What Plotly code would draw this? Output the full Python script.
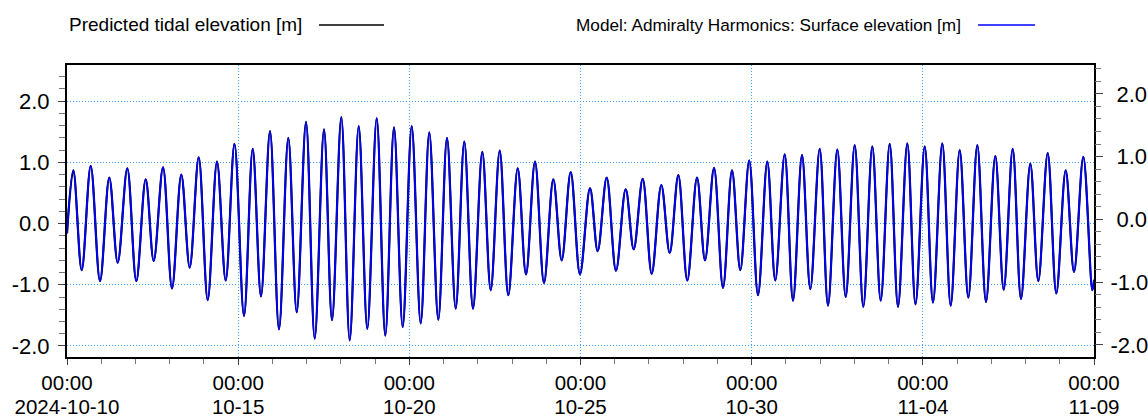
import pandas as pd
import plotly.graph_objects as go

# ---- data (high / low water times and heights) ----
start_time = "2024-10-10 00:00"
hours_from_start = [
    0, 4.42, 10.31, 16.62, 23.14, 29.66, 35.55, 42.28, 48.59, 55.18, 60.79,
    67.30, 73.61, 80.13, 86.02, 92.33, 98.64, 105.16, 111.26, 117.43, 124.09,
    130.19, 136.01, 142.32, 148.63, 155.15, 161.04, 167.56, 173.66, 180.18, 185.79,
    192.31, 198.20, 204.51, 210.54, 217.13, 223.15, 229.25, 235.35, 241.66, 247.97,
    254.00, 260.31, 266.41, 272.51, 278.54, 284.64, 291.16, 297.05, 303.36, 309.39,
    315.98, 321.80, 328.11, 334.42, 340.94, 346.82, 353.13, 359.65, 366.66, 372.06,
    378.37, 384.89, 391.69, 397.30, 403.61, 409.92, 416.65, 422.54, 428.57, 434.88,
    441.68, 447.29, 453.60, 459.91, 466.22, 472.04, 478.28, 484.45, 490.97, 496.57,
    503.16, 508.98, 515.29, 521.11, 527.70, 533.52, 540.04, 545.93, 552.24, 558.27,
    564.58, 570.47, 576.78, 582.60, 589.12, 594.87, 601.32, 607.13, 613.65, 619.54,
    625.85, 631.88, 638.19, 644.29, 650.81, 656.70, 663.01, 668.83, 675.35, 680.96,
    687.55, 693.58, 700.17, 705.99, 712.51, 718.82, 720,
]
predicted_elev = [
    -0.16, 0.87, -0.76, 0.94, -0.94, 0.75, -0.64, 0.90, -0.94, 0.72, -0.61,
    0.92, -1.06, 0.80, -0.72, 1.08, -1.25, 1.01, -0.93, 1.30, -1.51,
    1.22, -1.19, 1.51, -1.73, 1.40, -1.45, 1.66, -1.88, 1.54, -1.58,
    1.74, -1.91, 1.59, -1.72, 1.72, -1.83, 1.57, -1.69, 1.59, -1.63,
    1.49, -1.57, 1.40, -1.39, 1.34, -1.39, 1.17, -1.09, 1.19, -1.17,
    0.90, -0.83, 1.01, -0.97, 0.72, -0.60, 0.84, -0.83, 0.58, -0.45,
    0.75, -0.77, 0.56, -0.42, 0.73, -0.82, 0.63, -0.48, 0.79, -0.93,
    0.75, -0.60, 0.91, -1.05, 0.87, -0.76, 1.03, -1.17, 1.01, -0.93,
    1.13, -1.26, 1.12, -1.07, 1.22, -1.34, 1.21, -1.20, 1.28, -1.36,
    1.26, -1.26, 1.30, -1.36, 1.31, -1.32, 1.26, -1.29, 1.31, -1.34,
    1.20, -1.21, 1.28, -1.28, 1.10, -1.08, 1.22, -1.23, 0.98, -0.94,
    1.15, -1.14, 0.87, -0.79, 1.09, -1.09, -0.92,
]
model_elev = [
    -0.16, 0.87, -0.76, 0.94, -0.94, 0.75, -0.64, 0.90, -0.94, 0.72, -0.61,
    0.92, -1.06, 0.80, -0.72, 1.08, -1.25, 1.01, -0.93, 1.30, -1.51,
    1.22, -1.19, 1.51, -1.73, 1.40, -1.45, 1.66, -1.88, 1.54, -1.58,
    1.74, -1.91, 1.59, -1.72, 1.72, -1.83, 1.57, -1.69, 1.59, -1.63,
    1.49, -1.57, 1.40, -1.39, 1.34, -1.39, 1.17, -1.09, 1.19, -1.17,
    0.90, -0.83, 1.01, -0.97, 0.72, -0.60, 0.84, -0.83, 0.58, -0.45,
    0.75, -0.77, 0.56, -0.42, 0.73, -0.82, 0.63, -0.48, 0.79, -0.93,
    0.75, -0.60, 0.91, -1.05, 0.87, -0.76, 1.03, -1.17, 1.01, -0.93,
    1.13, -1.26, 1.12, -1.07, 1.22, -1.34, 1.21, -1.20, 1.28, -1.36,
    1.26, -1.26, 1.30, -1.36, 1.31, -1.32, 1.26, -1.29, 1.31, -1.34,
    1.20, -1.21, 1.28, -1.28, 1.10, -1.08, 1.22, -1.23, 0.98, -0.94,
    1.15, -1.14, 0.87, -0.79, 1.09, -1.09, -0.92,
]

x_tick_vals = ["2024-10-10", "2024-10-15", "2024-10-20", "2024-10-25",
               "2024-10-30", "2024-11-04", "2024-11-09"]
x_tick_time = ["00:00"] * 7
x_tick_date = ["2024-10-10", "10-15", "10-20", "10-25", "10-30", "11-04", "11-09"]
y_tick_vals = [-2, -1, 0, 1, 2]
y_tick_text = ["-2.0", "-1.0", "0.0", "1.0", "2.0"]
# right-hand labels are right-aligned in the reference: pad the unsigned ones
y2_tick_text = ["-2.0", "-1.0", "\u00a00.0", "\u00a01.0", "\u00a02.0"]

series_names = ["Predicted tidal elevation [m]",
                "Model: Admiralty Harmonics: Surface elevation [m]"]

times = pd.Timestamp(start_time) + pd.to_timedelta(hours_from_start, unit="h")

FONT = "Liberation Sans, Arial, sans-serif"
GRID = "#3f9dff"
x_range = ["2024-10-10 00:00", "2024-11-09 00:00"]
XFONT = 20.5

fig = go.Figure()
fig.add_trace(go.Scatter(
    x=times, y=predicted_elev, mode="lines", name=series_names[0],
    line=dict(color="#000000", width=2.2, shape="spline", smoothing=1.0),
    xaxis="x", yaxis="y", showlegend=False,
))
fig.add_trace(go.Scatter(
    x=times, y=model_elev, mode="lines", name=series_names[1],
    line=dict(color="#0000ff", width=1.8, shape="spline", smoothing=1.0),
    xaxis="x", yaxis="y", showlegend=False,
))
# empty helper traces so the secondary axes (date row / right scale) are built
fig.add_trace(go.Scatter(x=[], y=[], xaxis="x2", yaxis="y", showlegend=False,
                         hoverinfo="skip"))
fig.add_trace(go.Scatter(x=[], y=[], xaxis="x", yaxis="y2", showlegend=False,
                         hoverinfo="skip"))

fig.update_layout(
    template="none",
    width=1148, height=418,
    margin=dict(l=67, r=54, t=65, b=61, autoexpand=False),
    paper_bgcolor="white", plot_bgcolor="white",
    font=dict(family=FONT, size=22, color="#000"),
    showlegend=False,
    xaxis=dict(
        type="date", range=x_range, automargin=False,
        tickmode="array", tickvals=x_tick_vals, ticktext=x_tick_time,
        ticks="outside", ticklen=6, tickcolor="#444", tickwidth=1,
        ticklabelstandoff=0,
        showgrid=True, gridcolor=GRID, griddash="1px,2px", gridwidth=1,
        showline=True, linecolor="#000", linewidth=2, mirror=True,
        minor=dict(dtick=86400000, tick0="2024-10-10", ticks="outside",
                   ticklen=5, tickcolor="#777", showgrid=False),
        zeroline=False, tickfont=dict(size=XFONT),
    ),
    xaxis2=dict(
        type="date", range=x_range, overlaying="x", anchor="y", side="bottom",
        automargin=False,
        tickmode="array", tickvals=x_tick_vals, ticktext=x_tick_date,
        ticks="", showgrid=False, showline=False, zeroline=False,
        ticklabelstandoff=35, tickfont=dict(size=XFONT),
    ),
    yaxis=dict(
        range=[-2.18, 2.59], automargin=False,
        tickmode="array", tickvals=y_tick_vals, ticktext=y_tick_text,
        ticks="outside", ticklen=7, tickcolor="#444",
        showgrid=True, gridcolor=GRID, griddash="1px,2px", gridwidth=1,
        showline=True, linecolor="#000", linewidth=2, mirror=True,
        zeroline=False, ticklabelstandoff=4,
        minor=dict(dtick=0.2, tick0=0, ticks="outside", ticklen=6,
                   tickcolor="#777", showgrid=False),
        tickfont=dict(size=22),
    ),
    yaxis2=dict(
        range=[-2.194, 2.459], overlaying="y", side="right", anchor="x",
        automargin=False,
        tickmode="array", tickvals=y_tick_vals, ticktext=y2_tick_text,
        ticks="outside", ticklen=8, tickcolor="#444",
        showgrid=False, showline=False, zeroline=False, ticklabelstandoff=3,
        minor=dict(dtick=0.2, tick0=0, ticks="outside", ticklen=6,
                   tickcolor="#777", showgrid=False),
        tickfont=dict(size=22),
    ),
    annotations=[
        dict(text=series_names[0], xref="paper", yref="paper",
             x=0.0, y=1.137, xanchor="left", yanchor="middle",
             showarrow=False, font=dict(size=19, family=FONT, color="#000")),
        dict(text=series_names[1], xref="paper", yref="paper",
             x=0.8725, y=1.137, xanchor="right", yanchor="middle",
             showarrow=False, font=dict(size=17.2, family=FONT, color="#000")),
    ],
    shapes=[
        dict(type="line", xref="paper", yref="paper",
             x0=0.2454, x1=0.3087, y0=1.137, y1=1.137,
             line=dict(color="#000", width=1.3)),
        dict(type="line", xref="paper", yref="paper",
             x0=0.8871, x1=0.9426, y0=1.137, y1=1.137,
             line=dict(color="#0000ff", width=1.3)),
    ],
)

fig.write_html("out.html")
